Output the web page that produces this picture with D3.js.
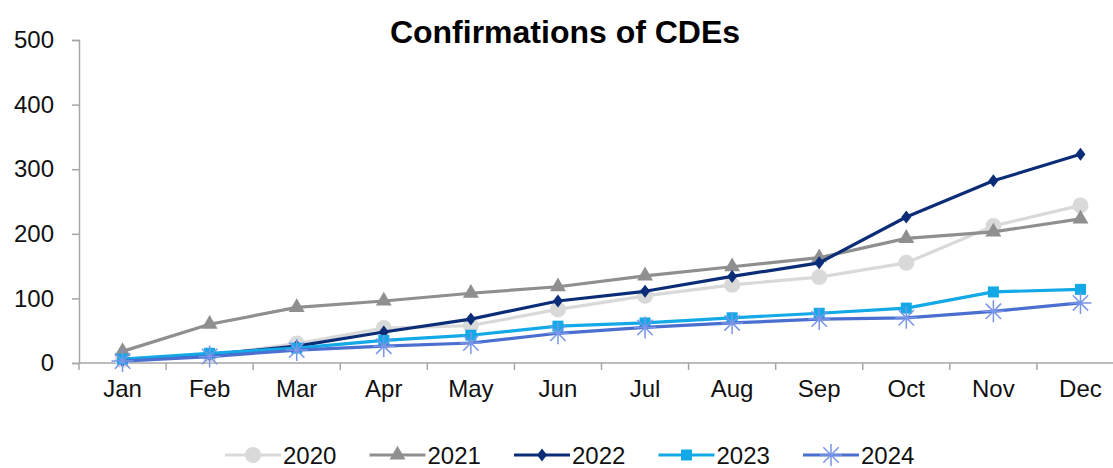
<!DOCTYPE html>
<html>
<head>
<meta charset="utf-8">
<script src="https://cdn.jsdelivr.net/npm/d3@7/dist/d3.min.js"></script>
<style>
  html, body { margin: 0; padding: 0; background: #fff; }
  svg { display: block; font-family: Arial, "Liberation Sans", sans-serif; }
</style>
</head>
<body>
<svg id="chart" width="1113" height="468"></svg>
<script>
// Monthly cumulative confirmations of CDEs per year
const months = ["Jan", "Feb", "Mar", "Apr", "May", "Jun", "Jul", "Aug", "Sep", "Oct", "Nov", "Dec"];
const years = ["2020", "2021", "2022", "2023", "2024"];
const values2020 = [5, 12, 30, 54, 58, 83, 104, 121, 133, 155, 212, 244];
const values2021 = [18, 60, 86, 96, 108, 118, 135, 149, 163, 193, 203, 223];
const values2022 = [4, 13, 26, 48, 68, 96, 111, 134, 155, 226, 282, 323];
const values2023 = [6, 15, 23, 35, 43, 57, 62, 70, 77, 85, 110, 114];
const values2024 = [3, 10, 20, 26, 31, 46, 55, 62, 68, 70, 80, 93];
const yTicks = [0, 100, 200, 300, 400, 500];

const seriesValues = [values2020, values2021, values2022, values2023, values2024];
const colors = ["#d9d9d9", "#8f8f8f", "#0b2d78", "#12a9e6", "#4a6fd1"];
const markers = ["circle", "triangle", "diamond", "square", "star"];

const svg = d3.select("#chart");
const plotLeft = 79, plotRight = 1124, plotTop = 40, plotBottom = 363;

const x = d3.scaleBand().domain(months).range([plotLeft, plotRight]).padding(0);
const y = d3.scaleLinear().domain([0, 500]).range([plotBottom, plotTop]);

const axisColor = "#a6a6a6";

// Title
svg.append("text")
  .attr("x", 565).attr("y", 43)
  .attr("text-anchor", "middle")
  .attr("font-size", 32).attr("font-weight", "bold")
  .attr("fill", "#000")
  .text("Confirmations of CDEs");

// Y axis
const yAxis = svg.append("g").attr("transform", `translate(${plotLeft},0)`)
  .call(d3.axisLeft(y).tickValues(yTicks).tickSize(7).tickPadding(18).tickFormat(d3.format("d")));
yAxis.select(".domain").attr("stroke", axisColor).attr("stroke-width", 1.5);
yAxis.selectAll(".tick line").attr("stroke", axisColor).attr("stroke-width", 1.5);
yAxis.selectAll(".tick text").attr("font-size", 24).attr("fill", "#111")
  .attr("font-family", "Arial, 'Liberation Sans', sans-serif");

// X axis: ticks at category boundaries, labels centred in each band
const xg = svg.append("g").attr("transform", `translate(0,${plotBottom})`);
xg.append("line").attr("x1", plotLeft).attr("x2", plotRight).attr("y1", 0).attr("y2", 0)
  .attr("stroke", axisColor).attr("stroke-width", 1.5);
const boundaries = months.map(m => x(m)).concat([x(months[months.length - 1]) + x.bandwidth()]);
xg.selectAll("line.tick").data(boundaries).join("line").attr("class", "tick")
  .attr("x1", d => d).attr("x2", d => d).attr("y1", 0).attr("y2", 7)
  .attr("stroke", axisColor).attr("stroke-width", 1.5);
xg.selectAll("text.label").data(months).join("text").attr("class", "label")
  .attr("x", d => x(d) + x.bandwidth() / 2).attr("y", 34)
  .attr("text-anchor", "middle").attr("font-size", 24).attr("fill", "#111")
  .text(d => d);

const cx = m => x(m) + x.bandwidth() / 2;

function drawMarker(g, type, color, px, py) {
  if (type === "circle") {
    g.append("circle").attr("cx", px).attr("cy", py).attr("r", 8).attr("fill", color);
  } else if (type === "triangle") {
    g.append("path").attr("d", d3.symbol(d3.symbolTriangle, 110)())
      .attr("transform", `translate(${px},${py})`).attr("fill", color);
  } else if (type === "diamond") {
    g.append("path").attr("d", "M0,-6.5L5,0L0,6.5L-5,0Z")
      .attr("transform", `translate(${px},${py})`).attr("fill", color);
  } else if (type === "square") {
    g.append("rect").attr("x", px - 5.5).attr("y", py - 5.5).attr("width", 11).attr("height", 11).attr("fill", color);
  } else if (type === "star") {
    const s = 11;
    const p = `M${-s},0L${s},0M${-s * 0.7},${-s * 0.7}L${s * 0.7},${s * 0.7}M${-s * 0.7},${s * 0.7}L${s * 0.7},${-s * 0.7}M0,${-s}L0,${s}`;
    g.append("path").attr("d", p).attr("transform", `translate(${px},${py})`)
      .attr("stroke", "#7896e8").attr("stroke-width", 1.5).attr("fill", "none");
  }
}

const line = d3.line().x((d, i) => cx(months[i])).y(d => y(d));

seriesValues.forEach((vals, si) => {
  const g = svg.append("g");
  g.append("path").datum(vals).attr("d", line)
    .attr("fill", "none").attr("stroke", colors[si]).attr("stroke-width", 3.2)
    .attr("stroke-linejoin", "round");
  vals.forEach((v, i) => drawMarker(g, markers[si], colors[si], cx(months[i]), y(v)));
});

// Legend
const legendX0 = 225, legendStep = 144.5, legendY = 455;
years.forEach((yr, i) => {
  const g = svg.append("g").attr("transform", `translate(${legendX0 + i * legendStep},${legendY})`);
  g.append("line").attr("x1", 0).attr("x2", 56).attr("y1", 0).attr("y2", 0)
    .attr("stroke", colors[i]).attr("stroke-width", 3.2);
  drawMarker(g, markers[i], colors[i], 28, 0);
  g.append("text").attr("x", 58).attr("y", 8.5).attr("font-size", 24).attr("fill", "#111").text(yr);
});
</script>
</body>
</html>
